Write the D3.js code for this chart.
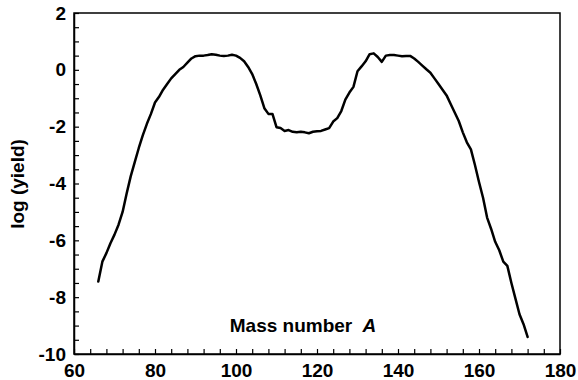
<!DOCTYPE html>
<html><head><meta charset="utf-8">
<script src="https://cdn.jsdelivr.net/npm/d3@7"></script>
<style>body{margin:0;background:#fff}svg{display:block}text{font-family:"Liberation Sans",Arial,sans-serif;font-weight:bold;fill:#000}</style>
</head><body>
<script>
const massNumbers = d3.range(66, 173);
const logYield = [
 -7.45,-6.75,-6.45,-6.1,-5.8,-5.45,-5.0,-4.35,-3.75,-3.25,
 -2.75,-2.3,-1.9,-1.55,-1.15,-0.95,-0.7,-0.5,-0.3,-0.15,
 0.0,0.1,0.25,0.4,0.48,0.5,0.5,0.52,0.55,0.53,
 0.5,0.49,0.5,0.53,0.5,0.42,0.3,0.1,-0.15,-0.5,
 -0.9,-1.35,-1.55,-1.55,-2.02,-2.05,-2.15,-2.12,-2.18,-2.2,
 -2.18,-2.2,-2.23,-2.18,-2.16,-2.15,-2.1,-2.05,-1.82,-1.7,
 -1.45,-1.05,-0.8,-0.6,-0.05,0.12,0.3,0.55,0.58,0.45,
 0.28,0.5,0.52,0.52,0.5,0.48,0.49,0.49,0.4,0.28,
 0.15,0.02,-0.1,-0.3,-0.5,-0.7,-0.9,-1.2,-1.5,-1.8,
 -2.2,-2.55,-2.8,-3.35,-3.95,-4.5,-5.2,-5.6,-6.05,-6.35,
 -6.75,-6.9,-7.5,-8.05,-8.6,-8.95,-9.4
];
const xTickLabels = [60, 80, 100, 120, 140, 160, 180];
const yTickLabels = [2, 0, -2, -4, -6, -8, -10];
const xTitle = "Mass number";
const xTitleItalic = "A";
const yTitle = "log (yield)";

const W = 578, H = 380;
const m = {left: 74, right: 18, top: 13, bottom: 26};
const svg = d3.select("body").append("svg").attr("width", W).attr("height", H);
const x = d3.scaleLinear().domain([60, 180]).range([m.left, W - m.right]);
const y = d3.scaleLinear().domain([-10, 2]).range([H - m.bottom, m.top]);

// frame
svg.append("rect").attr("x", x(60)).attr("y", y(2))
  .attr("width", x(180) - x(60)).attr("height", y(-10) - y(2))
  .attr("fill", "none").attr("stroke", "#000").attr("stroke-width", 1.5);

// x axis
const xAxis = d3.axisBottom(x).tickValues(d3.range(60, 181, 4)).tickSizeInner(-5).tickSizeOuter(0)
  .tickFormat(d => xTickLabels.includes(d) ? d : "");
const gx = svg.append("g").attr("transform", `translate(0,${y(-10)})`).call(xAxis);
gx.select(".domain").attr("stroke-width", 1.5);
gx.selectAll(".tick line").attr("stroke-width", 1.2);
gx.selectAll(".tick text").attr("y", 22.5).attr("dy", 0).style("font-size", "19px");

// y axis
const yAxis = d3.axisLeft(y).tickValues(d3.range(-10, 2.01, 0.5)).tickSizeInner(-5).tickSizeOuter(0)
  .tickFormat(d => yTickLabels.includes(d) ? d : "");
const gy = svg.append("g").attr("transform", `translate(${x(60)},0)`).call(yAxis);
gy.select(".domain").attr("stroke-width", 1.5);
gy.selectAll(".tick line").attr("stroke-width", 1.2);
gy.selectAll(".tick text").attr("x", -8).style("font-size", "19px");

// curve
const data = massNumbers.map((a, i) => [a, logYield[i]]);
svg.append("path").datum(data)
  .attr("fill", "none").attr("stroke", "#000").attr("stroke-width", 2.5)
  .attr("stroke-linejoin", "round").attr("stroke-linecap", "round")
  .attr("d", d3.line().x(d => x(d[0])).y(d => y(d[1])));

// titles
const t = svg.append("text").attr("x", 303).attr("y", 332).attr("text-anchor", "middle").style("font-size", "19px");
t.append("tspan").text(xTitle + " ");
t.append("tspan").attr("dx", 5).style("font-style", "italic").text(xTitleItalic);

svg.append("text").attr("transform", `translate(24,184) rotate(-90)`).attr("text-anchor", "middle")
  .style("font-size", "19px").text(yTitle);
</script>
</body></html>
